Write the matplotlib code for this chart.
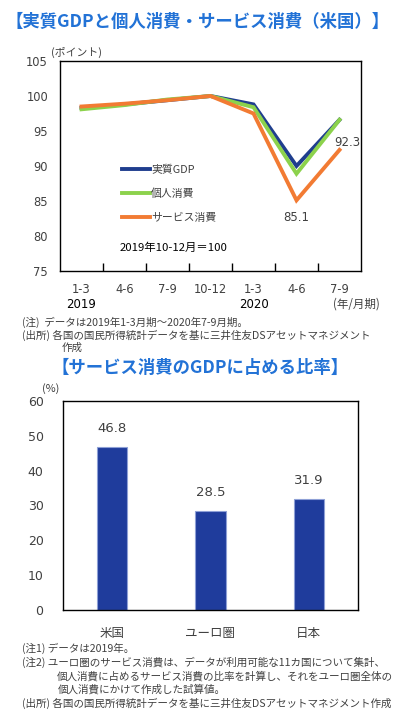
import numpy as np
import matplotlib
matplotlib.use("Agg")
import matplotlib.pyplot as plt

plt.rcParams['font.family'] = ['Noto Sans CJK JP', 'DejaVu Sans']

# =========================
# DATA
# =========================

quarters = ["1-3", "4-6", "7-9", "10-12", "1-3", "4-6", "7-9"]
years = ["2019", "", "", "", "2020", "", ""]

real_gdp = [98.3, 98.8, 99.4, 100.0, 98.8, 90.0, 96.6]
personal_cons = [98.1, 98.7, 99.5, 100.0, 98.4, 88.9, 96.6]
service_cons = [98.5, 98.9, 99.4, 100.0, 97.5, 85.1, 92.3]

regions = ["米国", "ユーロ圏", "日本"]
service_share = [46.8, 28.5, 31.9]

TITLE_BLUE = "#2272D6"
NAVY = "#1F3E8E"
GREEN = "#8CD24C"
ORANGE = "#F27B33"
BAR_BLUE = "#1F3C9C"
TXT = "#404040"

W, H = 397, 712
fig = plt.figure(figsize=(W / 100, H / 100), dpi=100)


def px(x, y):
    return x / W, 1 - y / H


def ax_rect(left, top, right, bottom):
    return [left / W, 1 - bottom / H, (right - left) / W, (bottom - top) / H]


# =========================
# TOP CHART
# =========================

fig.text(*px(198, 22), "【実質GDPと個人消費・サービス消費（米国）】", color=TITLE_BLUE,
         fontsize=12.5, fontweight='bold', va='center', ha='center')

ax1 = fig.add_axes(ax_rect(60, 61, 361, 271))
x = np.arange(len(quarters))
ax1.plot(x, real_gdp, color=NAVY, lw=2.8, label="実質GDP", solid_joinstyle='miter')
ax1.plot(x, personal_cons, color=GREEN, lw=2.8, label="個人消費", solid_joinstyle='miter')
ax1.plot(x, service_cons, color=ORANGE, lw=2.8, label="サービス消費", solid_joinstyle='miter')

ax1.set_xlim(-0.5, len(quarters) - 0.5)
ax1.set_ylim(75, 105)
ax1.set_yticks(np.arange(75, 106, 5))
ax1.set_xticks(np.arange(0.5, len(quarters) - 0.5, 1))
ax1.set_xticklabels([])
ax1.tick_params(axis='x', direction='in', length=6, width=1, color='black')
ax1.tick_params(axis='y', length=0, pad=8.6, labelsize=8.3, labelcolor=TXT)
for lab in ax1.get_yticklabels():
    lab.set_family('DejaVu Sans')
for s in ax1.spines.values():
    s.set_color('black')
    s.set_linewidth(1)

for i, (q, yr) in enumerate(zip(quarters, years)):
    ax1.text(i, -0.09, q, transform=ax1.get_xaxis_transform(), ha='center', va='center',
             fontsize=8.3, color=TXT, family='DejaVu Sans')
    if yr:
        ax1.text(i, -0.16, yr, transform=ax1.get_xaxis_transform(), ha='center', va='center',
                 fontsize=8.5, color='black', family='DejaVu Sans')
fig.text(*px(356, 304), "(年/月期)", ha='center', va='center', fontsize=8.3, color=TXT)
fig.text(*px(77, 52), "(ポイント)", ha='center', va='center', fontsize=7.8, color=TXT)

ax1.text(len(quarters) - 1 + 0.18, 93.4, f"{service_cons[-1]:.1f}", ha='center', va='center',
         fontsize=8.5, color=TXT, family='DejaVu Sans')
ax1.text(5, service_cons[5] - 2.5, f"{service_cons[5]:.1f}", ha='center', va='center',
         fontsize=8.5, color=TXT, family='DejaVu Sans')

leg = ax1.legend(loc='upper left', bbox_to_anchor=(0.205, 0.505), frameon=False,
                 handlelength=2.6, handletextpad=0.1, labelspacing=1.25, fontsize=7.8,
                 borderaxespad=0, borderpad=0)
for t in leg.get_texts():
    t.set_color(TXT)
ax1.text(0.197, 0.11, "2019年10-12月＝100", transform=ax1.transAxes, ha='left', va='center',
         fontsize=8.2, color='black')

fig.text(*px(22, 322), "(注)  データは2019年1-3月期～2020年7-9月期。", ha='left', va='center',
         fontsize=7.6, color=TXT)
fig.text(*px(22, 335), "(出所) 各国の国民所得統計データを基に三井住友DSアセットマネジメント",
         ha='left', va='center', fontsize=7.6, color=TXT)
fig.text(*px(62, 348), "作成", ha='left', va='center', fontsize=7.6, color=TXT)

# =========================
# BOTTOM CHART
# =========================

fig.text(*px(200, 368), "【サービス消費のGDPに占める比率】", color=TITLE_BLUE,
         fontsize=12.5, fontweight='bold', va='center', ha='center')

ax2 = fig.add_axes(ax_rect(63, 401, 358, 610))
xb = np.arange(len(regions))
bars = ax2.bar(xb, service_share, width=0.31, color=BAR_BLUE, edgecolor='#8EA0D6', linewidth=0.8)
ax2.set_xlim(-0.5, len(regions) - 0.5)
ax2.set_ylim(0, 60)
ax2.set_yticks(np.arange(0, 61, 10))
ax2.set_xticks(xb)
ax2.set_xticklabels(regions, fontsize=9, color=TXT)
ax2.tick_params(axis='x', length=0, pad=12)
ax2.tick_params(axis='y', length=0, pad=14, labelsize=9, labelcolor=TXT)
for lab in ax2.get_yticklabels():
    lab.set_family('DejaVu Sans')
for s in ax2.spines.values():
    s.set_color('black')
    s.set_linewidth(1)

for xi, v in zip(xb, service_share):
    ax2.text(xi, v + 5.2, f"{v:.1f}", ha='center', va='center', fontsize=9.5, color=TXT,
             family='DejaVu Sans')

fig.text(*px(51, 389), "(%)", ha='center', va='center', fontsize=7.8, color=TXT)

fig.text(*px(22, 648), "(注1) データは2019年。", ha='left', va='center', fontsize=7.6, color=TXT)
fig.text(*px(22, 662), "(注2) ユーロ圏のサービス消費は、データが利用可能な11カ国について集計、",
         ha='left', va='center', fontsize=7.6, color=TXT)
fig.text(*px(57, 676), "個人消費に占めるサービス消費の比率を計算し、それをユーロ圏全体の",
         ha='left', va='center', fontsize=7.6, color=TXT)
fig.text(*px(58, 689), "個人消費にかけて作成した試算値。", ha='left', va='center', fontsize=7.6, color=TXT)
fig.text(*px(22, 703), "(出所) 各国の国民所得統計データを基に三井住友DSアセットマネジメント作成",
         ha='left', va='center', fontsize=7.6, color=TXT)

fig.savefig("out.png", dpi=100)
